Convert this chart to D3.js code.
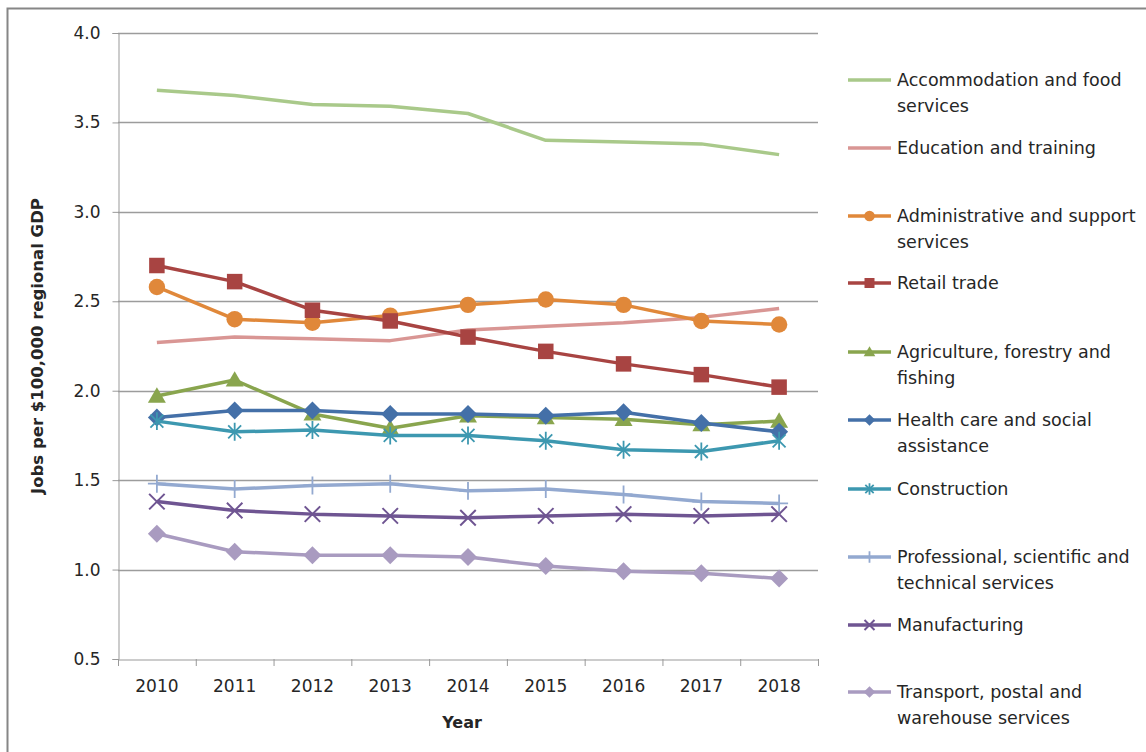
<!DOCTYPE html>
<html>
<head>
<meta charset="utf-8">
<script src="https://cdn.jsdelivr.net/npm/d3@7"></script>
<style>
  html, body { margin: 0; padding: 0; background: #fff; }
  svg { display: block; }
  text { font-family: "DejaVu Sans", sans-serif; fill: #262626; }
</style>
</head>
<body>
<svg id="chart" width="1146" height="752"></svg>
<script>
// Jobs per $100,000 of regional GDP, by industry, 2010-2018
const years = ["2010", "2011", "2012", "2013", "2014", "2015", "2016", "2017", "2018"];
const yTicks = [0.5, 1.0, 1.5, 2.0, 2.5, 3.0, 3.5, 4.0];

const accommodation = [3.68, 3.65, 3.60, 3.59, 3.55, 3.40, 3.39, 3.38, 3.32];
const education     = [2.27, 2.30, 2.29, 2.28, 2.34, 2.36, 2.38, 2.41, 2.46];
const administrative = [2.58, 2.40, 2.38, 2.42, 2.48, 2.51, 2.48, 2.39, 2.37];
const retail        = [2.70, 2.61, 2.45, 2.39, 2.30, 2.22, 2.15, 2.09, 2.02];
const agriculture   = [1.97, 2.06, 1.87, 1.79, 1.86, 1.85, 1.84, 1.81, 1.83];
const health        = [1.85, 1.89, 1.89, 1.87, 1.87, 1.86, 1.88, 1.82, 1.77];
const construction  = [1.83, 1.77, 1.78, 1.75, 1.75, 1.72, 1.67, 1.66, 1.72];
const professional  = [1.48, 1.45, 1.47, 1.48, 1.44, 1.45, 1.42, 1.38, 1.37];
const manufacturing = [1.38, 1.33, 1.31, 1.30, 1.29, 1.30, 1.31, 1.30, 1.31];
const transport     = [1.20, 1.10, 1.08, 1.08, 1.07, 1.02, 0.99, 0.98, 0.95];

const seriesNames = [
  ["Accommodation and food", "services"],
  ["Education and training"],
  ["Administrative and support", "services"],
  ["Retail trade"],
  ["Agriculture, forestry and", "fishing"],
  ["Health care and social", "assistance"],
  ["Construction"],
  ["Professional, scientific and", "technical services"],
  ["Manufacturing"],
  ["Transport, postal and", "warehouse services"]
];
const seriesValues = [accommodation, education, administrative, retail, agriculture,
                      health, construction, professional, manufacturing, transport];
const seriesColors = ["#a9c98a", "#d99694", "#e0883a", "#a84442", "#89a54e",
                      "#4470a8", "#3d98b0", "#93a9d0", "#6f5592", "#a99bc0"];
const seriesMarkers = ["none", "none", "circle", "square", "triangle",
                       "diamond", "asterisk", "plus", "cross", "diamond"];

const series = seriesNames.map((name, i) => ({
  name, values: seriesValues[i], color: seriesColors[i], marker: seriesMarkers[i]
}));

const svg = d3.select("#chart");
const plot = { left: 118, right: 818, top: 33, bottom: 659 };

// outer chart frame
svg.append("rect")
  .attr("x", 7.5).attr("y", 8.5).attr("width", 1160).attr("height", 780)
  .attr("fill", "none").attr("stroke", "#868686").attr("stroke-width", 2);

const x = d3.scaleBand().domain(years).range([plot.left, plot.right]).padding(0);
const xc = d => x(d) + x.bandwidth() / 2;
const y = d3.scaleLinear().domain([0.5, 4.0]).range([plot.bottom, plot.top]);

// horizontal gridlines
svg.append("g").selectAll("line")
  .data(yTicks.filter(t => t > 0.5))
  .join("line")
  .attr("x1", plot.left).attr("x2", plot.right)
  .attr("y1", d => Math.round(y(d)) + 0.5).attr("y2", d => Math.round(y(d)) + 0.5)
  .attr("stroke", "#9c9c9c").attr("stroke-width", 1.3);

// y axis
const yAxis = svg.append("g")
  .attr("transform", `translate(${plot.left + 0.5},0)`)
  .call(d3.axisLeft(y).tickValues(yTicks).tickFormat(d3.format(".1f")).tickSize(6).tickPadding(12));
yAxis.select(".domain").attr("stroke", "#999");
yAxis.selectAll(".tick line").attr("stroke", "#999");
yAxis.selectAll(".tick text").attr("font-size", 17).attr("fill", "#333")
  .attr("font-family", "DejaVu Sans, sans-serif");

// x axis
const xAxis = svg.append("g")
  .attr("transform", `translate(0,${plot.bottom + 0.5})`)
  .call(d3.axisBottom(x).tickSize(0).tickPadding(20));
xAxis.select(".domain").attr("stroke", "#999");
xAxis.selectAll(".tick text").attr("font-size", 17).attr("fill", "#333")
  .attr("font-family", "DejaVu Sans, sans-serif");
// category boundary ticks
svg.append("g").selectAll("line")
  .data(years.concat(["end"]))
  .join("line")
  .attr("x1", (d, i) => plot.left + i * x.bandwidth() + 0.5)
  .attr("x2", (d, i) => plot.left + i * x.bandwidth() + 0.5)
  .attr("y1", plot.bottom).attr("y2", plot.bottom + 7)
  .attr("stroke", "#999");

// axis titles
svg.append("text")
  .attr("x", (plot.left + plot.right) / 2 - 6).attr("y", 728)
  .attr("text-anchor", "middle").attr("font-size", 16).attr("font-weight", "bold")
  .attr("fill", "#111")
  .text("Year");
svg.append("text")
  .attr("transform", `translate(43,${(plot.top + plot.bottom) / 2}) rotate(-90)`)
  .attr("text-anchor", "middle").attr("font-size", 16.5).attr("font-weight", "bold")
  .attr("fill", "#111")
  .text("Jobs per $100,000 regional GDP");

// marker drawing
function drawMarker(g, type, color, size) {
  const s = size;
  if (type === "circle") {
    g.append("circle").attr("r", s * 0.53).attr("fill", color);
  } else if (type === "square") {
    g.append("rect").attr("x", -s / 2).attr("y", -s / 2).attr("width", s).attr("height", s).attr("fill", color);
  } else if (type === "triangle") {
    const h = s * 0.95;
    g.append("path").attr("d", `M0,${-h * 0.6}L${s * 0.58},${h * 0.45}L${-s * 0.58},${h * 0.45}Z`).attr("fill", color);
  } else if (type === "diamond") {
    const r = s * 0.58;
    g.append("path").attr("d", `M0,${-r}L${r},0L0,${r}L${-r},0Z`).attr("fill", color);
  } else if (type === "asterisk") {
    const r = s * 0.58;
    const d = r * 0.72;
    g.append("path")
      .attr("d", `M0,${-r}V${r}M${-d},${-d}L${d},${d}M${-d},${d}L${d},${-d}`)
      .attr("stroke", color).attr("stroke-width", 1.8).attr("fill", "none");
  } else if (type === "plus") {
    const r = s * 0.58;
    g.append("path").attr("d", `M0,${-r}V${r}M${-r},0H${r}`)
      .attr("stroke", color).attr("stroke-width", 1.8).attr("fill", "none");
  } else if (type === "cross") {
    const r = s * 0.5;
    g.append("path").attr("d", `M${-r},${-r}L${r},${r}M${-r},${r}L${r},${-r}`)
      .attr("stroke", color).attr("stroke-width", 2).attr("fill", "none");
  }
}

const line = d3.line().x((d, i) => xc(years[i])).y(d => y(d));

// series lines and markers
series.forEach(s => {
  const g = svg.append("g");
  g.append("path")
    .attr("d", line(s.values))
    .attr("fill", "none").attr("stroke", s.color).attr("stroke-width", 3.5)
    .attr("stroke-linejoin", "round").attr("stroke-linecap", "butt");
  if (s.marker !== "none") {
    s.values.forEach((v, i) => {
      const m = g.append("g").attr("transform", `translate(${xc(years[i])},${y(v)})`);
      drawMarker(m, s.marker, s.color, 15.5);
    });
  }
});

// legend
const legendY = [80, 148, 216, 283, 352, 420, 489, 557, 625, 692];
const legend = svg.append("g");
series.forEach((s, i) => {
  const g = legend.append("g").attr("transform", `translate(0,${legendY[i]})`);
  g.append("line").attr("x1", 848).attr("x2", 891).attr("y1", 0).attr("y2", 0)
    .attr("stroke", s.color).attr("stroke-width", 3.5);
  if (s.marker !== "none") {
    const m = g.append("g").attr("transform", "translate(869.5,0)");
    drawMarker(m, s.marker, s.color, 10);
  }
  const t = g.append("text").attr("x", 897).attr("y", 6).attr("font-size", 17.5).attr("fill", "#262626");
  s.name.forEach((ln, j) => {
    t.append("tspan").attr("x", 897).attr("dy", j === 0 ? 0 : 25.5).text(ln);
  });
});
</script>
</body>
</html>
